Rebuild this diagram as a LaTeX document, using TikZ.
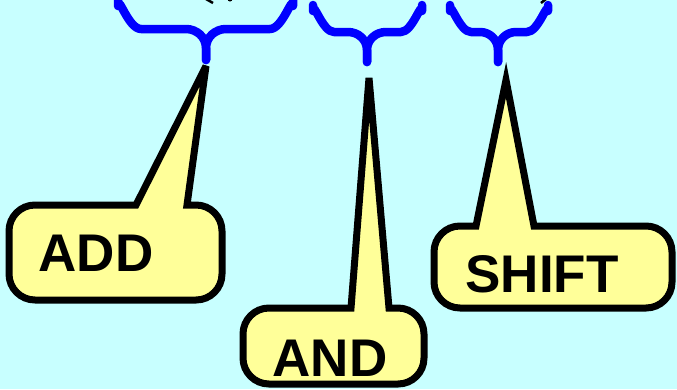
\documentclass[tikz,border=0pt]{standalone}
\usepackage{fontspec}
\setmainfont{Liberation Sans}
\definecolor{bgcyan}{RGB}{200,255,255}
\definecolor{calloutfill}{RGB}{255,255,153}
\definecolor{bracblue}{RGB}{0,0,255}
\tikzset{
  bracestyle/.style={draw=bracblue, line width=8.5pt, line cap=round, line join=round},
  calloutstyle/.style={draw=black, fill=calloutfill, line width=7pt, line join=miter, miter limit=6},
  labelstyle/.style={font=\fontsize{53}{53}\selectfont\bfseries, text=black, inner sep=0pt, anchor=center},
}
\begin{document}
\begin{tikzpicture}[x=1pt,y=-1pt]
\fill[bgcyan] (0,0) rectangle (677,389);
\useasboundingbox (0,0) rectangle (677,389);

\coordinate (t1) at (206,60);
\coordinate (t2) at (367,62);
\coordinate (t3) at (498,62);

\draw[bracestyle] (118,-6) -- (118,6) to[out=90,in=180] (141,29)
  -- (186,29) to[out=0,in=90] (206,48) -- (t1);
\draw[bracestyle] (293,-6) -- (293,6) to[out=90,in=0] (270,29)
  -- (226,29) to[out=180,in=90] (206,48) -- (t1);

\draw[bracestyle] (313,5) -- (313,11) to[out=90,in=180] (334,32)
  -- (348,32) to[out=0,in=90] (367,50) -- (t2);
\draw[bracestyle] (422,5) -- (422,11) to[out=90,in=0] (401,32)
  -- (386,32) to[out=180,in=90] (367,50) -- (t2);

\draw[bracestyle] (450,5) -- (450,11) to[out=90,in=180] (471,32)
  -- (480,32) to[out=0,in=90] (498,50) -- (t3);
\draw[bracestyle] (548,5) -- (548,11) to[out=90,in=0] (527,32)
  -- (516,32) to[out=180,in=90] (498,50) -- (t3);

% cropped glyph fragments at the top edge
\draw[black, line width=2.5pt] (206,-1) -- (213,3);
\fill[black] (230,-1) circle (2.5);
\draw[black, line width=2.5pt] (546,-1) -- (541,3);

% ADD callout
\coordinate (addtip) at (206,66);
\draw[calloutstyle] (136,205) -- (addtip) -- (187,205)
  [rounded corners=26] -- (222,205) -- (222,300) -- (9,300) -- (9,205) [sharp corners] -- (136,205) -- cycle;
\node[labelstyle] (add) at (96,253) {ADD};

% AND callout
\coordinate (andtip) at (369,78);
\draw[calloutstyle] (351,308) -- (andtip) -- (389,308)
  [rounded corners=26] -- (424,308) -- (424,384) -- (243,384) -- (243,308) [sharp corners] -- (351,308) -- cycle;
\node[labelstyle] (and) at (330,358) {AND};

% SHIFT callout
\coordinate (shifttip) at (506,80);
\draw[calloutstyle] (476,226) -- (shifttip) -- (534,226)
  [rounded corners=26] -- (672,226) -- (672,308) -- (434,308) -- (434,226) [sharp corners] -- (476,226) -- cycle;
\node[labelstyle] (shift) at (542,274) {SHIFT};
\end{tikzpicture}
\end{document}
